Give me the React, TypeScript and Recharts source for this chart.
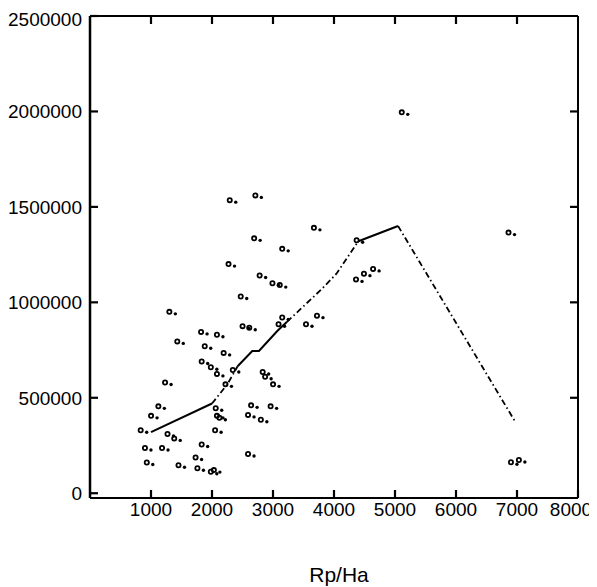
import { ComposedChart, XAxis, YAxis, Scatter, Line, Label, ReferenceLine } from 'recharts'

// axis ticks
const xTicks = [1000, 2000, 3000, 4000, 5000, 6000, 7000, 8000]
const yTicks = [0, 500000, 1000000, 1500000, 2000000, 2500000]

// scattered observations (Rp/Ha, value)
const pointX = [
  2340, 2760, 3720, 2740, 3200, 2320, 2830, 3040, 3160, 2520,
  5160, 6910, 4420, 4410, 4540, 4690, 1350, 1480, 1870, 2130,
  1930, 2240, 1880, 2030, 2130, 2390, 2550, 2660, 3200, 3140,
  3770, 3590, 1280, 2270, 2880, 2920, 3050, 1170, 1050, 880,
  2100, 2110, 2130, 2170, 2690, 3010, 2640, 2850, 1320, 1430,
  950, 1230, 980, 1500, 1780, 1810, 2030, 2080, 1880, 2640,
  6950, 7080,
]
const pointY = [
  1530000, 1555000, 1385000, 1330000, 1275000, 1195000, 1135000, 1095000, 1085000, 1025000,
  1990000, 1360000, 1320000, 1115000, 1145000, 1170000, 945000, 790000, 840000, 825000,
  765000, 730000, 685000, 655000, 620000, 640000, 870000, 862000, 915000, 880000,
  925000, 880000, 575000, 565000, 630000, 605000, 565000, 450000, 400000, 325000,
  325000, 440000, 400000, 390000, 455000, 450000, 405000, 380000, 305000, 282000,
  232000, 232000, 156000, 141000, 182000, 126000, 107000, 116000, 250000, 200000,
  157000, 169000,
]

// fitted curve
const lineX = [1000, 2000, 2250, 2420, 2660, 2770, 3070, 3230, 3800, 4040, 4400, 5050, 6960]
const lineY = [320000, 470000, 570000, 665000, 745000, 745000, 850000, 898000, 1070000, 1150000, 1320000, 1400000, 380000]
// style of each segment between consecutive curve points
const segmentDashed = [false, true, true, false, false, false, false, true, true, true, false, true]

const points = pointX.map((x, i) => ({ x, y: pointY[i] }))
const linePoints = lineX.map((x, i) => ({ x, y: lineY[i] }))

const runs: { dashed: boolean; data: { x: number; y: number }[] }[] = []
let start = 0
for (let i = 1; i <= segmentDashed.length; i++) {
  if (i === segmentDashed.length || segmentDashed[i] !== segmentDashed[start]) {
    runs.push({ dashed: segmentDashed[start], data: linePoints.slice(start, i + 1) })
    start = i
  }
}

// layout of the plot box inside the svg
const W = 589
const H = 579
const Y_AXIS_W = 72
const X_AXIS_H = 85
const PLOT_LEFT = 82
const PLOT_RIGHT = 570
const PLOT_TOP = 8
const PLOT_BOTTOM = 490
const TICK = 8

const fontFamily = '"Liberation Sans", Arial, sans-serif'

// bottom ticks point inward; the box top gets the same ticks (except at the corner)
const BottomTick = (props: any) => {
  const { x, payload } = props
  const v = payload.value
  return (
    <g>
      <line x1={x} x2={x} y1={PLOT_BOTTOM} y2={PLOT_BOTTOM - TICK} stroke="#000" strokeWidth={2.2} />
      {v < 8000 && (
        <line x1={x} x2={x} y1={PLOT_TOP} y2={PLOT_TOP + TICK} stroke="#000" strokeWidth={2.2} />
      )}
      <text
        x={v === 8000 ? x - 7 : x}
        y={PLOT_BOTTOM + 18}
        textAnchor="middle"
        fontFamily={fontFamily}
        fontSize={19}
        fill="#000"
      >
        {v}
      </text>
    </g>
  )
}

const LeftTick = (props: any) => {
  const { y, payload } = props
  const v = payload.value
  return (
    <g>
      <line x1={PLOT_LEFT} x2={PLOT_LEFT + TICK} y1={y} y2={y} stroke="#000" strokeWidth={2.2} />
      {v > 0 && v < 2500000 && (
        <line x1={PLOT_RIGHT} x2={PLOT_RIGHT - TICK} y1={y} y2={y} stroke="#000" strokeWidth={2.2} />
      )}
      <text
        x={PLOT_LEFT - 8}
        y={v === 2500000 ? y + 10 : y + 7}
        textAnchor="end"
        fontFamily={fontFamily}
        fontSize={19}
        fill="#000"
      >
        {v}
      </text>
    </g>
  )
}

// each observation is printed as a small code mark followed by a dot
const renderMark = (props: any) => {
  const { cx, cy } = props
  if (cx == null || cy == null) return <g />
  return (
    <g>
      <circle cx={cx - 3} cy={cy - 1} r={2.1} fill="none" stroke="#000" strokeWidth={1.8} />
      <circle cx={cx + 3} cy={cy + 1} r={1.7} fill="#000" />
    </g>
  )
}

export default function App() {
  return (
    <ComposedChart
      width={W}
      height={H}
      margin={{
        top: PLOT_TOP,
        right: W - PLOT_RIGHT,
        bottom: H - PLOT_BOTTOM - X_AXIS_H,
        left: PLOT_LEFT - Y_AXIS_W,
      }}
    >
      <XAxis
        xAxisId="bottom"
        type="number"
        dataKey="x"
        domain={[0, 8000]}
        ticks={xTicks}
        interval={0}
        allowDataOverflow
        height={X_AXIS_H}
        tick={<BottomTick />}
        tickLine={false}
        tickSize={0}
        axisLine={{ stroke: '#000', strokeWidth: 2 }}
      >
        <Label
          value="Rp/Ha"
          position="insideBottom"
          offset={1}
          dx={5}
          style={{ fontFamily, fontSize: 21, fill: '#000' }}
        />
      </XAxis>
      <YAxis
        yAxisId="left"
        type="number"
        dataKey="y"
        domain={[-25000, 2500000]}
        ticks={yTicks}
        interval={0}
        allowDataOverflow
        width={Y_AXIS_W}
        tick={<LeftTick />}
        tickLine={false}
        tickSize={0}
        axisLine={{ stroke: '#000', strokeWidth: 2.5 }}
      />
      <ReferenceLine xAxisId="bottom" yAxisId="left" y={2500000} stroke="#000" strokeWidth={2} />
      <ReferenceLine xAxisId="bottom" yAxisId="left" x={8000} stroke="#000" strokeWidth={2} />
      <Scatter
        data={points}
        dataKey="y"
        xAxisId="bottom"
        yAxisId="left"
        shape={renderMark}
        isAnimationActive={false}
      />
      {runs.map((run, i) => (
        <Line
          key={i}
          data={run.data}
          dataKey="y"
          xAxisId="bottom"
          yAxisId="left"
          type="linear"
          stroke="#000"
          strokeWidth={run.dashed ? 1.8 : 2}
          strokeDasharray={run.dashed ? '6 3 1.5 3' : undefined}
          dot={false}
          activeDot={false}
          isAnimationActive={false}
        />
      ))}
    </ComposedChart>
  )
}
